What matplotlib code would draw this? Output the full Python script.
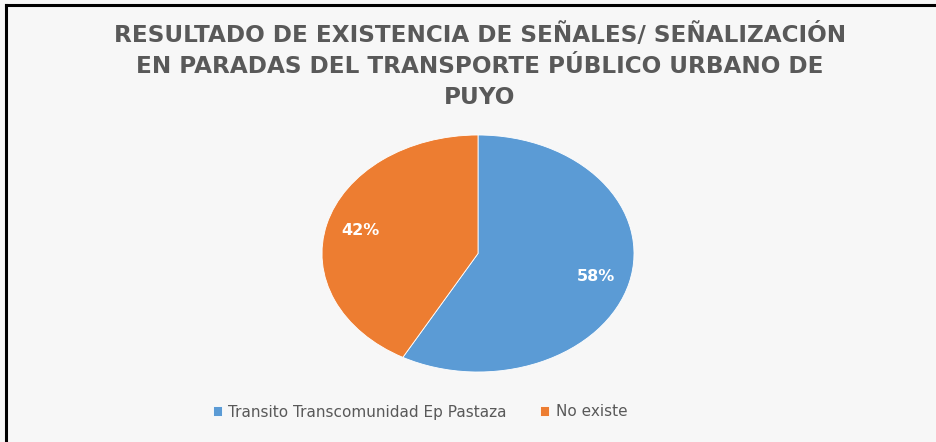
import matplotlib
matplotlib.use("Agg")
import matplotlib.pyplot as plt

categories = ["Transito Transcomunidad Ep Pastaza", "No existe"]
values = [58, 42]
colors = ["#5B9BD5", "#ED7D31"]
title = "RESULTADO DE EXISTENCIA DE SEÑALES/ SEÑALIZACIÓN\nEN PARADAS DEL TRANSPORTE PÚBLICO URBANO DE\nPUYO"

W, H = 936, 442
fig = plt.figure(figsize=(W / 100, H / 100), dpi=100)
fig.patch.set_facecolor("#f7f7f7")

# frame lines (top and left)
fig.add_artist(plt.Line2D([6 / W, 1], [1 - 5 / H, 1 - 5 / H], color="black", lw=2.2))
fig.add_artist(plt.Line2D([6 / W, 6 / W], [0, 1 - 5 / H], color="black", lw=2.2))

fig.text(480 / W, 1 - 66 / H, title, ha="center", va="center", fontsize=16.7,
         fontweight="bold", color="#595959", family="DejaVu Sans", linespacing=1.42)

# pie axes (elliptical)
x0, x1, y0, y1 = 322, 634, 135, 372
ax = fig.add_axes([x0 / W, 1 - y1 / H, (x1 - x0) / W, (y1 - y0) / H])
ax.set_facecolor("none")
wedges, texts, autotexts = ax.pie(values, colors=colors, startangle=90, counterclock=False,
                                  autopct="%1.0f%%", pctdistance=0.78,
                                  wedgeprops=dict(edgecolor="white", linewidth=0.6),
                                  textprops=dict(color="white", fontweight="bold",
                                                 fontsize=11.5, family="DejaVu Sans"))
ax.set_aspect("auto")
ax.set_xlim(-1.0, 1.0)
ax.set_ylim(-1.0, 1.0)
ax.axis("off")

leg = fig.legend(wedges, categories, loc="center", bbox_to_anchor=(420 / W, 1 - 412 / H),
                 ncol=2, frameon=False, handlelength=0.6, handleheight=0.6,
                 columnspacing=2.2, handletextpad=0.4,
                 prop=dict(family="DejaVu Sans", size=11))
for t in leg.get_texts():
    t.set_color("#595959")

fig.savefig("out.png", dpi=100, facecolor=fig.get_facecolor())
